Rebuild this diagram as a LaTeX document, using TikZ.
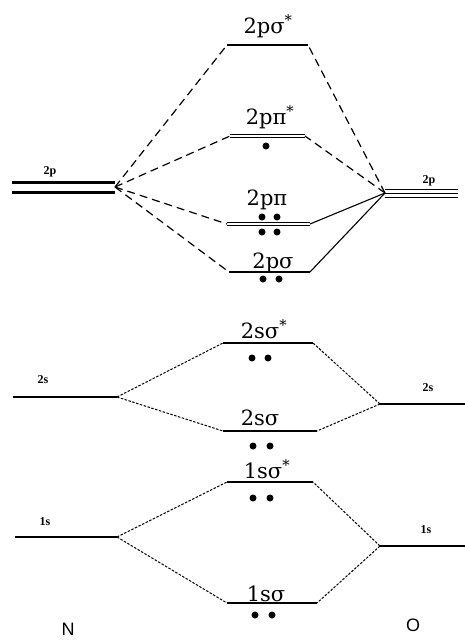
\documentclass[tikz,border=0pt]{standalone}
\usepackage{fontspec}
\newfontfamily\molfont{DejaVu Serif}
\newfontfamily\smallfont{Liberation Serif}
\newfontfamily\atsans{Liberation Sans}
\begin{document}
\begin{tikzpicture}[x=1pt,y=-1pt,
  level/.style={line width=1.5pt},
  thinlevel/.style={line width=1pt},
  thicklevel/.style={line width=3pt},
  pconn/.style={line width=1.2pt,dash pattern=on 8pt off 5pt},
  sconn/.style={line width=1pt,dash pattern=on 2.5pt off 1.5pt},
  solidconn/.style={line width=1.1pt},
  mlab/.style={font=\molfont\fontsize{21}{24}\selectfont,inner sep=0pt,anchor=base},
  alab/.style={font=\smallfont\bfseries\fontsize{12}{14}\selectfont,inner sep=0pt},
  atom/.style={font=\atsans\fontsize{18}{20}\selectfont,inner sep=0pt},
  el/.style={circle,fill=black,inner sep=0pt,minimum size=7pt}]
\useasboundingbox[fill=white] (0,0) rectangle (465,641);

% ---- atomic levels, N (left)
\coordinate (N2pA) at (12,182); \coordinate (N2pAe) at (115,182);
\coordinate (N2pB) at (12,192); \coordinate (N2pBe) at (115,192);
\coordinate (N2p) at (115,187);
\draw[thicklevel] (N2pA) -- (N2pAe);
\draw[thicklevel] (N2pB) -- (N2pBe);
\coordinate (N2sL) at (13,397); \coordinate (N2s) at (117,397);
\draw[level] (N2sL) -- (N2s);
\coordinate (N1sL) at (15,537); \coordinate (N1s) at (117,537);
\draw[level] (N1sL) -- (N1s);

% ---- atomic levels, O (right)
\coordinate (O2p) at (385,193);
\coordinate (O2pA) at (385,189); \coordinate (O2pAe) at (458,189);
\coordinate (O2pBe) at (458,193);
\coordinate (O2pC) at (385,197); \coordinate (O2pCe) at (458,197);
\draw[thinlevel] (O2pA) -- (O2pAe);
\draw[thinlevel] (O2p) -- (O2pBe);
\draw[thinlevel] (O2pC) -- (O2pCe);
\coordinate (O2s) at (380,404); \coordinate (O2sR) at (465,404);
\draw[level] (O2s) -- (O2sR);
\coordinate (O1s) at (380,546); \coordinate (O1sR) at (465,546);
\draw[level] (O1s) -- (O1sR);

% ---- molecular levels
\coordinate (psSL) at (227,45); \coordinate (psSR) at (308,45);
\draw[level] (psSL) -- (psSR);
\coordinate (ppSL) at (230,136); \coordinate (ppSR) at (305,136);
\draw[thinlevel] ([yshift=-1.8pt]ppSL) -- ([yshift=-1.8pt]ppSR);
\draw[thinlevel] ([yshift=1.8pt]ppSL) -- ([yshift=1.8pt]ppSR);
\coordinate (ppL) at (227,224); \coordinate (ppR) at (310,224);
\draw[thinlevel] ([yshift=-1.8pt]ppL) -- ([yshift=-1.8pt]ppR);
\draw[thinlevel] ([yshift=1.8pt]ppL) -- ([yshift=1.8pt]ppR);
\coordinate (psL) at (229,272); \coordinate (psR) at (310,272);
\draw[level] (psL) -- (psR);
\coordinate (ssSL) at (223,343); \coordinate (ssSR) at (313,343);
\draw[level] (ssSL) -- (ssSR);
\coordinate (ssL) at (223,431); \coordinate (ssR) at (317,431);
\draw[level] (ssL) -- (ssR);
\coordinate (osSL) at (227,482); \coordinate (osSR) at (313,482);
\draw[level] (osSL) -- (osSR);
\coordinate (osL) at (227,603); \coordinate (osR) at (317,603);
\draw[level] (osL) -- (osR);

% ---- connectors
\draw[pconn] (N2p) -- (psSL);
\draw[pconn] (N2p) -- (ppSL);
\draw[pconn] (N2p) -- (ppL);
\draw[pconn] (N2p) -- (psL);
\draw[pconn] (O2p) -- (psSR);
\draw[pconn] (O2p) -- (ppSR);
\draw[solidconn] (O2p) -- (ppR);
\draw[solidconn] (O2p) -- (psR);
\draw[sconn] (N2s) -- (ssSL);
\draw[sconn] (N2s) -- (ssL);
\draw[sconn] (O2s) -- (ssSR);
\draw[sconn] (O2s) -- (ssR);
\draw[sconn] (N1s) -- (osSL);
\draw[sconn] (N1s) -- (osL);
\draw[sconn] (O1s) -- (osSR);
\draw[sconn] (O1s) -- (osR);

% ---- labels
\node[mlab] (lpsS) at (268,33) {2pσ\textsuperscript{*}};
\node[mlab] (lppS) at (270,124) {2pπ\textsuperscript{*}};
\node[mlab] (lpp) at (267,205) {2pπ};
\node[mlab] (lps) at (273,268) {2pσ};
\node[mlab] (lssS) at (264,338) {2sσ\textsuperscript{*}};
\node[mlab] (lss) at (260,425) {2sσ};
\node[mlab] (losS) at (267,478) {1sσ\textsuperscript{*}};
\node[mlab] (los) at (266,601) {1sσ};

\node[alab] (lN2p) at (50,172) {2p};
\node[alab] (lO2p) at (429,181) {2p};
\node[alab] (lN2s) at (43,380) {2s};
\node[alab] (lO2s) at (428,388) {2s};
\node[alab] (lN1s) at (45,522) {1s};
\node[alab] (lO1s) at (426,530) {1s};

\node[atom] (lN) at (68,629) {N};
\node[atom] (lO) at (413,625) {O};

% ---- electrons
\node[el] (e1) at (266,146) {};
\node[el] (e2) at (262,217) {};
\node[el] (e3) at (277,217) {};
\node[el] (e4) at (262,232) {};
\node[el] (e5) at (277,232) {};
\node[el] (e6) at (263,279) {};
\node[el] (e7) at (279,279) {};
\node[el] (e8) at (252,358) {};
\node[el] (e9) at (268,358) {};
\node[el] (e10) at (253,446) {};
\node[el] (e11) at (270,446) {};
\node[el] (e12) at (253,498) {};
\node[el] (e13) at (270,498) {};
\node[el] (e14) at (255,615) {};
\node[el] (e15) at (272,615) {};
\end{tikzpicture}
\end{document}
